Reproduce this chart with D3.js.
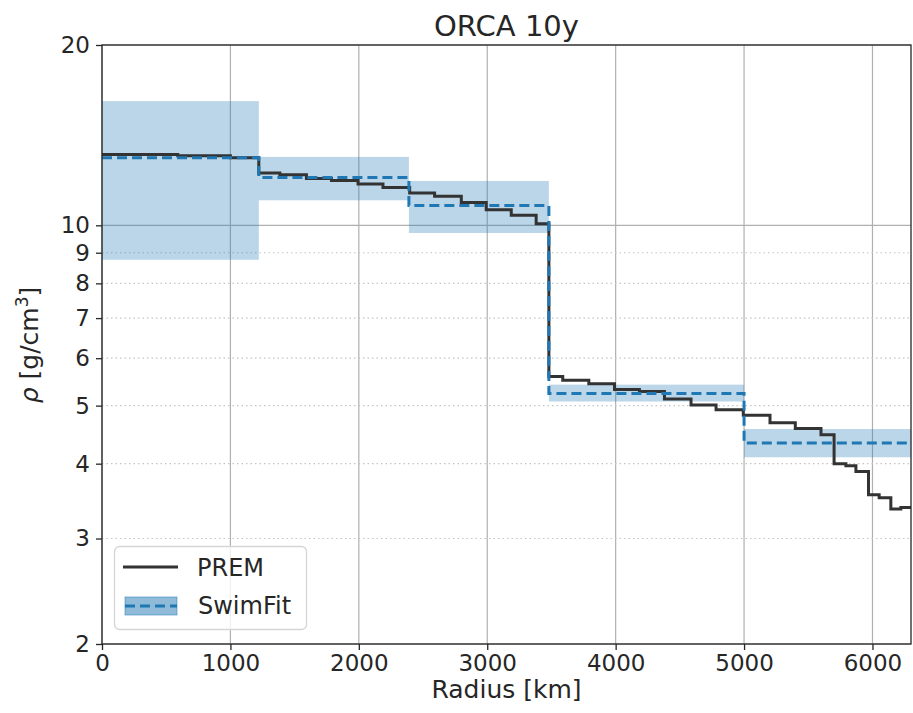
<!DOCTYPE html>
<html><head><meta charset="utf-8">
<script src="https://cdn.jsdelivr.net/npm/d3@7"></script>
<style>body{margin:0;background:#fff}svg{display:block}text{font-family:"DejaVu Sans",sans-serif;fill:#262626}</style>
</head><body>
<script>
// ---- data ----
const premR = [0, 590, 1000, 1221, 1385, 1592, 1787, 1994, 2188, 2396, 2590, 2798, 2992, 3187, 3381, 3480, 3588, 3791, 3991, 4185, 4380, 4587, 4782, 4994, 5202, 5399, 5599, 5701, 5793, 5871, 5969, 6052, 6143, 6221, 6300];
const premRho = [13.13, 13.06, 12.96, 12.23, 12.14, 11.97, 11.88, 11.72, 11.57, 11.32, 11.18, 10.92, 10.62, 10.39, 10.06, 5.59, 5.51, 5.44, 5.32, 5.28, 5.13, 5.01, 4.92, 4.82, 4.68, 4.58, 4.47, 4.00, 3.97, 3.88, 3.55, 3.51, 3.36, 3.38];
const swimR = [0, 1221, 2390, 3480, 5000, 6300];
const swimRho = [12.96, 12.02, 10.79, 5.24, 4.33];
const swimLo = [8.76, 11.01, 9.71, 5.08, 4.10];
const swimHi = [16.12, 13.01, 11.86, 5.42, 4.57];
const xTicks = [0, 1000, 2000, 3000, 4000, 5000, 6000];
const yMajor = [2, 10, 20];
const yMinor = [3, 4, 5, 6, 7, 8, 9];
const title = "ORCA 10y";
const xLabel = "Radius [km]";

// ---- layout ----
const W = 913, H = 713;
const L = 102, R = 911, T = 45, B = 644;
const svg = d3.select("body").append("svg").attr("width", W).attr("height", H);
const x = d3.scaleLinear().domain([0, 6300]).range([L, R]);
const y = d3.scaleLog().domain([2, 20]).range([B, T]);

// grid
const g = svg.append("g");
g.selectAll(".vg").data(xTicks).enter().append("line")
  .attr("x1", d => x(d)).attr("x2", d => x(d)).attr("y1", T).attr("y2", B)
  .attr("stroke", "#b0b0b0").attr("stroke-width", 1.2);
g.selectAll(".hg").data(yMajor).enter().append("line")
  .attr("x1", L).attr("x2", R).attr("y1", d => y(d)).attr("y2", d => y(d))
  .attr("stroke", "#b0b0b0").attr("stroke-width", 1.2);
g.selectAll(".hm").data(yMinor).enter().append("line")
  .attr("x1", L).attr("x2", R).attr("y1", d => y(d)).attr("y2", d => y(d))
  .attr("stroke", "#c4c4c4").attr("stroke-width", 1.2).attr("stroke-dasharray", "1.5,3");

// bands
const bands = swimRho.map((v, i) => ({x0: swimR[i], x1: swimR[i+1], lo: swimLo[i], hi: swimHi[i]}));
svg.append("g").selectAll("rect").data(bands).enter().append("rect")
  .attr("x", d => x(d.x0)).attr("width", d => x(d.x1) - x(d.x0))
  .attr("y", d => y(d.hi)).attr("height", d => y(d.lo) - y(d.hi))
  .attr("fill", "#1f77b4").attr("fill-opacity", 0.3);

// step lines
function stepPts(rs, vs) {
  const pts = [];
  vs.forEach((v, i) => { pts.push([rs[i], v]); pts.push([rs[i+1], v]); });
  return pts;
}
const line = d3.line().x(d => x(d[0])).y(d => y(d[1]));
svg.append("path").datum(stepPts(premR, premRho)).attr("d", line)
  .attr("fill", "none").attr("stroke", "#333").attr("stroke-width", 3).attr("stroke-linejoin", "miter");
svg.append("path").datum(stepPts(swimR, swimRho)).attr("d", line)
  .attr("fill", "none").attr("stroke", "#1f77b4").attr("stroke-width", 3).attr("stroke-dasharray", "10,5");

// spines
svg.append("rect").attr("x", L).attr("y", T).attr("width", R - L).attr("height", B - T)
  .attr("fill", "none").attr("stroke", "#262626").attr("stroke-width", 1.3);

// x axis
const xa = svg.append("g").attr("transform", `translate(0,${B})`)
  .call(d3.axisBottom(x).tickValues(xTicks).tickFormat(d3.format("d")).tickSize(6).tickPadding(5));
xa.select(".domain").remove();
xa.selectAll("line").attr("stroke", "#262626").attr("stroke-width", 1.3);
xa.selectAll("text").attr("font-size", 23).attr("fill", "#262626").style("font-family", "DejaVu Sans");

// y axis
const ya = svg.append("g").attr("transform", `translate(${L},0)`)
  .call(d3.axisLeft(y).tickValues(yMajor.concat(yMinor)).tickFormat(d3.format("d")).tickSize(6).tickPadding(6));
ya.select(".domain").remove();
ya.selectAll("line").attr("stroke", "#262626").attr("stroke-width", 1.3);
ya.selectAll("text").attr("font-size", 23).attr("fill", "#262626").style("font-family", "DejaVu Sans");

// labels
svg.append("text").attr("x", (L + R) / 2).attr("y", 36).attr("text-anchor", "middle")
  .attr("font-size", 29).text(title);
svg.append("text").attr("x", (L + R) / 2).attr("y", 698).attr("text-anchor", "middle")
  .attr("font-size", 25).text(xLabel);
const yl = svg.append("text").attr("transform", "translate(38,345) rotate(-90)")
  .attr("text-anchor", "middle").attr("font-size", 25);
yl.append("tspan").attr("font-style", "italic").text("ρ");
yl.append("tspan").text(" [g/cm");
yl.append("tspan").attr("font-size", 17).attr("dy", -10).text("3");
yl.append("tspan").attr("dy", 10).text("]");

// legend
const lg = svg.append("g");
lg.append("rect").attr("x", 114.5).attr("y", 546.5).attr("width", 192).attr("height", 83).attr("rx", 5)
  .attr("fill", "#fff").attr("fill-opacity", 0.8).attr("stroke", "#d6d6d6").attr("stroke-width", 1.3);
lg.append("line").attr("x1", 123).attr("x2", 178).attr("y1", 567).attr("y2", 567)
  .attr("stroke", "#333").attr("stroke-width", 3);
lg.append("text").attr("x", 197).attr("y", 567).attr("dy", "0.36em").attr("font-size", 24).text("PREM");
lg.append("rect").attr("x", 125).attr("y", 597).attr("width", 52).attr("height", 18)
  .attr("fill", "#1f77b4").attr("fill-opacity", 0.5).attr("stroke", "#1f77b4").attr("stroke-opacity", 0.5);
lg.append("line").attr("x1", 125).attr("x2", 177).attr("y1", 606).attr("y2", 606)
  .attr("stroke", "#1f77b4").attr("stroke-width", 3).attr("stroke-dasharray", "10,5");
lg.append("text").attr("x", 198).attr("y", 605).attr("dy", "0.36em").attr("font-size", 24).text("SwimFit");
</script>
</body></html>
